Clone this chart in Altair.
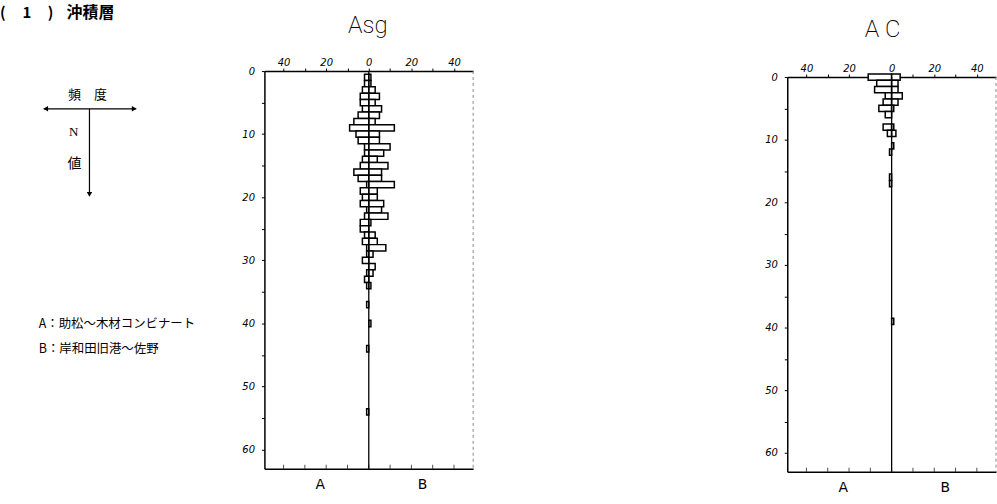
import altair as alt
import pandas as pd

# ---------------- data ----------------
ASG_N = [1, 2, 3, 4, 5, 6, 7, 8, 9, 10, 11, 12, 13, 14, 15, 16, 17, 18, 19, 20,
         21, 22, 23, 24, 25, 26, 27, 28, 29, 30, 31, 32, 33, 34, 37, 40, 44, 54]
ASG_A = [2, 2, 3, 4, 4, 3, 5, 7, 9, 6, 5, 2, 2, 3, 4, 7, 5, 1, 4, 3,
         4, 1, 2, 4, 4, 2, 3, 1, 1, 3, 0, 1, 2, 1, 1, 0, 1, 1]
ASG_B = [1, 1, 3, 5, 3, 6, 5, 3, 12, 5, 5, 10, 7, 4, 9, 6, 6, 12, 4, 4,
         7, 6, 9, 1, 0, 3, 4, 8, 2, 0, 3, 2, 0, 1, 0, 1, 0, 0]

AC_N = [0, 1, 2, 3, 4, 5, 6, 8, 9, 11, 12, 16, 17, 39]
AC_A = [11, 7, 8, 3, 4, 6, 3, 4, 2, 0, 1, 1, 1, 0]
AC_B = [4, 3, 3, 5, 3, 1, 0, 1, 2, 1, 0, 0, 0, 1]

X_TICKS = [-40, -30, -20, -10, 0, 10, 20, 30, 40]
Y_TICKS = [0, 5, 10, 15, 20, 25, 30, 35, 40, 45, 50, 55, 60]
SIDE_LABEL_POS = [-23, 25]

JP = "Noto Sans CJK JP"
NUMF = "DejaVu Sans"
ONE = pd.DataFrame({"k": [0]})


def make_df(ns, a, b):
    rows = []
    for n, va, vb in zip(ns, a, b):
        if va > 0:
            rows.append({"N": n, "side": "A", "count": va})
        if vb > 0:
            rows.append({"N": n, "side": "B", "count": vb})
    return pd.DataFrame(rows)


def txt(s, x, y, size, weight="normal", align="left", font=JP):
    return alt.Chart(ONE).mark_text(
        text=s, fontSize=size, fontWeight=weight, align=align,
        baseline="middle", font=font, color="black"
    ).encode(x=alt.value(x), y=alt.value(y))


def panel(ns, a, b, title, ytop, height, title_x, title_y, dashed_right):
    df = make_df(ns, a, b)
    xs = alt.Scale(domain=[-49, 49], nice=False, zero=False)
    ys = alt.Scale(domain=[0, 63], range=[ytop, height], nice=False, zero=False)

    bars = alt.Chart(df).transform_calculate(
        x0="datum.side == 'A' ? -datum.count : 0",
        x1="datum.side == 'A' ? 0 : datum.count",
        y0="datum.N - 0.5",
        y1="datum.N + 0.5",
    ).mark_rect(fill="white", stroke="black", strokeWidth=1.5, clip=False).encode(
        x=alt.X("x0:Q", scale=xs, axis=alt.Axis(
            orient="top", values=X_TICKS, offset=-ytop,
            labelExpr="datum.value % 20 == 0 ? '' + abs(datum.value) : ''",
            title=None, grid=False, tickSize=3, labelPadding=1,
            labelFontStyle="italic", labelFontSize=10, labelFont=NUMF,
            domainColor="black", domainWidth=1.5, tickColor="black",
            labelColor="black", labelOverlap=False)),
        x2="x1:Q",
        y=alt.Y("y0:Q", scale=ys, axis=alt.Axis(
            orient="left", values=Y_TICKS,
            labelExpr="datum.value % 10 == 0 ? '' + datum.value : ''",
            title=None, grid=False, tickSize=3, labelPadding=7,
            labelFontStyle="italic", labelFontSize=10, labelFont=NUMF,
            domainColor="black", domainWidth=1.5, tickColor="black",
            labelColor="black", labelOverlap=False)),
        y2="y1:Q",
    )

    zero = alt.Chart(ONE).mark_rule(color="black", strokeWidth=1.3).encode(
        x=alt.X(datum=0, type="quantitative", scale=xs, axis=alt.Axis(
            orient="bottom", values=SIDE_LABEL_POS,
            labelExpr="datum.value < 0 ? 'A' : 'B'",
            ticks=False, title=None, grid=False, labelPadding=9,
            labelFontSize=14, labelFont=NUMF, labelColor="black",
            domainColor="black", domainWidth=1.5, labelOverlap=False)),
        y=alt.value(ytop),
        y2=alt.value(height),
    )

    bticks = alt.Chart(pd.DataFrame({"t": X_TICKS})).mark_tick(
        color="black", size=4, thickness=1
    ).encode(
        x=alt.X("t:Q", scale=xs, axis=None),
        y=alt.value(height - 2),
    )

    layers = [bars, zero, bticks]
    if dashed_right:
        right = alt.Chart(ONE).mark_rule(
            color="#888888", strokeWidth=1, strokeDash=[3, 3]
        ).encode(x=alt.X(datum=49, type="quantitative", scale=xs, axis=None),
                 y=alt.value(ytop), y2=alt.value(height))
        layers.append(right)

    layers.append(txt(title, title_x, title_y, 24, weight=200,
                      align="center", font="Roboto"))
    return layers


# ---------- Asg panel with the left legend (y relative to row origin 76) ----------
asg_layers = panel(ASG_N, ASG_A, ASG_B, "Asg", -6, 394, 104, -51, True)
legend_layers = [
    txt("(", 1 - 267, -64, 15, weight="bold"),
    txt("1", 28 - 267, -64, 15, weight="bold", align="center"),
    txt(")", 49 - 267, -64, 15, weight="bold"),
    txt("沖積層", 68 - 267, -64, 16, weight="bold"),
    txt("頻　度", -178, 18, 13, align="center"),
    alt.Chart(ONE).mark_rule(color="black", strokeWidth=1.2).encode(
        x=alt.value(-222), x2=alt.value(-129), y=alt.value(32)),
    alt.Chart(ONE).mark_rule(color="black", strokeWidth=1.2).encode(
        x=alt.value(-176), y=alt.value(32), y2=alt.value(119)),
    alt.Chart(ONE).mark_point(shape="triangle-left", filled=True, size=30,
                              color="black", opacity=1).encode(
        x=alt.value(-220), y=alt.value(32)),
    alt.Chart(ONE).mark_point(shape="triangle-right", filled=True, size=30,
                              color="black", opacity=1).encode(
        x=alt.value(-131), y=alt.value(32)),
    alt.Chart(ONE).mark_point(shape="triangle-down", filled=True, size=30,
                              color="black", opacity=1).encode(
        x=alt.value(-176), y=alt.value(118)),
    txt("N", -192, 55, 13, align="center", font="Liberation Serif"),
    txt("値", -191, 88, 14, align="center"),
    txt("A：助松〜木材コンビナート", -227, 248, 12.5),
    txt("B：岸和田旧港〜佐野", -227, 274, 12.5),
]
asg = alt.layer(*(asg_layers + legend_layers)).resolve_axis(
    x="independent").properties(width=210, height=394)

# ---------- Ac panel ----------
ac_layers = panel(AC_N, AC_A, AC_B, "A C", 0, 397, 96, -47, True)
spacer = alt.Chart(ONE).mark_rule(opacity=0).encode(
    x=alt.value(0), x2=alt.value(1), y=alt.value(-76))
ac = alt.layer(*(ac_layers + [spacer])).resolve_axis(
    x="independent").properties(width=210, height=397)

chart = alt.hconcat(asg, ac, spacing=292).properties(
    padding=0, background="white"
).configure_view(stroke=None)

chart.save("out.html", embed_options={"renderer": "svg", "actions": False})
